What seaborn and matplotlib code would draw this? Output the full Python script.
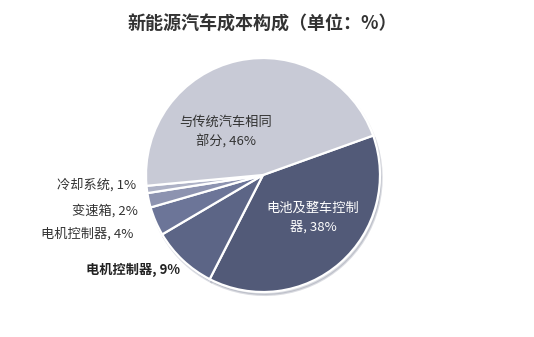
import seaborn as sns
import pandas as pd
import matplotlib as mpl
import matplotlib.pyplot as plt

# cost share of new-energy vehicles
parts = ["电池及整车控制器", "电机控制器", "电机控制器", "变速箱", "冷却系统", "与传统汽车相同部分"]
shares = [38, 9, 4, 2, 1, 46]
labels = ["电池及整车控制\n器, 38%", "电机控制器, 9%", "电机控制器, 4%",
          "变速箱, 2%", "冷却系统, 1%", "与传统汽车相同\n部分, 46%"]
colors = ["#525a78", "#5c6586", "#6c7598", "#8d93b0", "#aeb2c6", "#c8cad6"]

df = pd.DataFrame({"part": parts, "share": shares, "label": labels})

sns.set_theme(style="white")
plt.rcParams['font.family'] = ['Noto Sans CJK SC', 'DejaVu Sans']

fig = plt.figure(figsize=(5.34, 3.37), dpi=100)
ax = fig.add_axes([0.2734, 0.1335, 0.4382, 0.6944])

wedges, _ = ax.pie(
    df["share"], colors=colors, startangle=19.7, counterclock=False,
    wedgeprops=dict(edgecolor="white", linewidth=1.6),
    shadow=dict(ox=0.01, oy=-0.018, shade=0.1, alpha=0.2),
)
ax.set_xlim(-1, 1)
ax.set_ylim(-1, 1)
ax.set_aspect("equal")

# label placement (x, y, ha, colour, weight)
spots = [
    (0.427, -0.368, "center", "white", "normal"),
    (-0.709, -0.812, "right", "#222222", "bold"),
    (-1.111, -0.504, "right", "#333333", "normal"),
    (-1.068, -0.308, "right", "#333333", "normal"),
    (-1.085, -0.085, "right", "#333333", "normal"),
    (-0.316, 0.363, "center", "#333333", "normal"),
]
for lab, (x, y, ha, c, w) in zip(df["label"], spots):
    ax.text(x, y, lab, ha=ha, va="center", color=c, fontsize=9.5,
            fontweight=w, linespacing=1.5)

fig.text(0.492, 0.928, "新能源汽车成本构成（单位：%）", ha="center", va="center",
         fontsize=13, fontweight="bold", color="#333333")

fig.savefig("out.png", dpi=100, facecolor="white")
